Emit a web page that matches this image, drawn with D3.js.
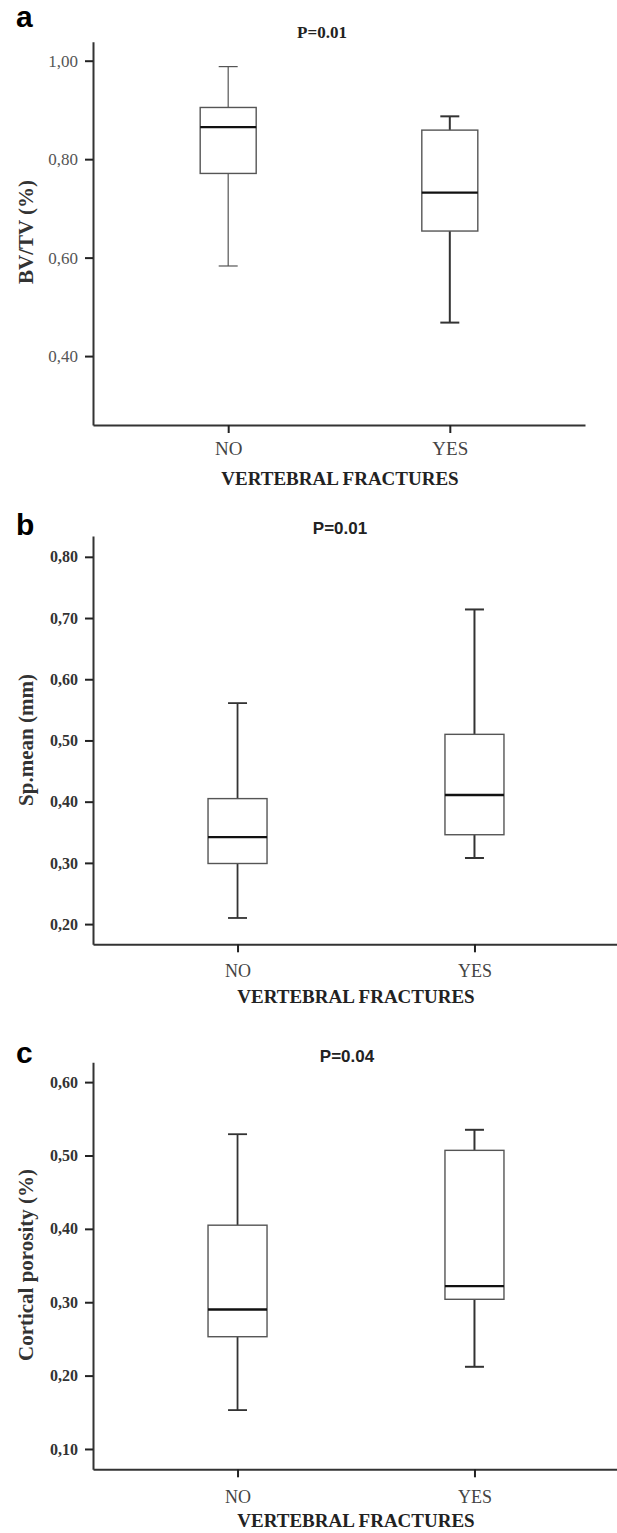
<!DOCTYPE html>
<html>
<head>
<meta charset="utf-8">
<script src="https://cdn.jsdelivr.net/npm/d3@7"></script>
<style>
  body { margin: 0; background: #fff; }
  svg { display: block; }
  .serif { font-family: 'Liberation Serif', 'Times New Roman', serif; }
  .sans { font-family: 'Liberation Sans', Arial, sans-serif; }
</style>
</head>
<body>
<script>
// groups on the x axis
const groups = ['NO', 'YES']

// box stats: [min, q1, median, q3, max]
const bvtvNo = [0.583, 0.771, 0.865, 0.905, 0.988]
const bvtvYes = [0.468, 0.654, 0.732, 0.859, 0.887]
const spNo = [0.210, 0.299, 0.342, 0.405, 0.561]
const spYes = [0.308, 0.346, 0.411, 0.510, 0.714]
const cortNo = [0.153, 0.253, 0.290, 0.405, 0.529]
const cortYes = [0.212, 0.304, 0.322, 0.507, 0.535]

// tick values
const bvtvTicks = [0.40, 0.60, 0.80, 1.00]
const spTicks = [0.20, 0.30, 0.40, 0.50, 0.60, 0.70, 0.80]
const cortTicks = [0.10, 0.20, 0.30, 0.40, 0.50, 0.60]

// p values / labels
const pLabels = ['P=0.01', 'P=0.01', 'P=0.04']
const yTitles = ['BV/TV (%)', 'Sp.mean (mm)', 'Cortical porosity (%)']
const xTitle = 'VERTEBRAL FRACTURES'

const w = 617
const h = 1533

// comma decimal format like the original
const locale = d3.formatLocale({ decimal: ',', thousands: '.', grouping: [3], currency: ['', ''] })
const fmt = locale.format('.2f')

const svg = d3.select('body')
    .append('svg')
    .attr('width', w)
    .attr('height', h)

// panel layout
const panels = [
    {
        letter: 'a', stats: [bvtvNo, bvtvYes], ticks: bvtvTicks,
        domain: [0.26, 1.0386], top: 41.7, bottom: 425, right: 585,
        boxW: 56, letterY: 27, pX: 322, pY: 38, pFont: 'serif', pSize: 17,
        yTitleY: 232, catPad: 8.5, catSize: 19, titleX: 340, titleY: 485,
        tickSize: 17, tickWeight: 'normal', tickColor: '#555',
        boxStroke: ['#555', '#333'], whiskStroke: [1.2, 2]
    },
    {
        letter: 'b', stats: [spNo, spYes], ticks: spTicks,
        domain: [0.167, 0.834], top: 536, bottom: 944.3, right: 619,
        boxW: 59, letterY: 535, pX: 340, pY: 534, pFont: 'sans', pSize: 17,
        yTitleY: 740, catPad: 12, catSize: 18, titleX: 356, titleY: 1003,
        tickSize: 16, tickWeight: 'bold', tickColor: '#333',
        boxStroke: ['#333', '#333'], whiskStroke: [1.8, 2]
    },
    {
        letter: 'c', stats: [cortNo, cortYes], ticks: cortTicks,
        domain: [0.0723, 0.627], top: 1062.3, bottom: 1469.3, right: 619,
        boxW: 59, letterY: 1063, pX: 347, pY: 1062, pFont: 'sans', pSize: 17,
        yTitleY: 1265, catPad: 13, catSize: 18, titleX: 356, titleY: 1527,
        tickSize: 16, tickWeight: 'bold', tickColor: '#333',
        boxStroke: ['#333', '#333'], whiskStroke: [1.8, 2]
    }
]

const left = 93

panels.forEach((p, i) => {
    const g = svg.append('g')

    const yScale = d3.scaleLinear()
        .domain(p.domain)
        .range([p.bottom, p.top])

    const xScale = d3.scalePoint()
        .domain(groups)
        .range([left, p.right])
        .padding(0.61)

    // y axis
    const yAxis = d3.axisLeft(yScale)
        .tickValues(p.ticks)
        .tickFormat(fmt)
        .tickSize(8)
        .tickSizeOuter(0)
        .tickPadding(7)

    const yG = g.append('g')
        .attr('transform', `translate(${left},0)`)
        .call(yAxis)
    yG.select('.domain').attr('stroke', '#333').attr('stroke-width', 2)
    yG.selectAll('.tick line').attr('stroke', '#222').attr('stroke-width', 2)
    yG.selectAll('.tick text')
        .attr('class', 'serif')
        .style('font-size', p.tickSize + 'px')
        .style('font-weight', p.tickWeight)
        .attr('fill', p.tickColor)

    // x axis
    const xAxis = d3.axisBottom(xScale)
        .tickSize(8)
        .tickSizeOuter(0)
        .tickPadding(p.catPad)

    const xG = g.append('g')
        .attr('transform', `translate(0,${p.bottom})`)
        .call(xAxis)
    xG.select('.domain').attr('stroke', '#333').attr('stroke-width', 2)
    xG.selectAll('.tick line').attr('stroke', '#222').attr('stroke-width', 2)
    xG.selectAll('.tick text')
        .attr('class', 'serif')
        .style('font-size', p.catSize + 'px')
        .attr('fill', '#444')

    // boxes
    p.stats.forEach((s, j) => {
        const cx = xScale(groups[j])
        const bw = p.boxW
        const cap = 19
        const col = p.boxStroke[j]
        const sw = p.whiskStroke[j]

        // whiskers
        g.append('line')
            .attr('x1', cx).attr('x2', cx)
            .attr('y1', yScale(s[4])).attr('y2', yScale(s[3]))
            .attr('stroke', col).attr('stroke-width', sw)
        g.append('line')
            .attr('x1', cx).attr('x2', cx)
            .attr('y1', yScale(s[1])).attr('y2', yScale(s[0]))
            .attr('stroke', col).attr('stroke-width', sw)
        // caps
        ;[s[0], s[4]].forEach(v => {
            g.append('line')
                .attr('x1', cx - cap / 2).attr('x2', cx + cap / 2)
                .attr('y1', yScale(v)).attr('y2', yScale(v))
                .attr('stroke', col).attr('stroke-width', sw)
        })
        // box
        g.append('rect')
            .attr('x', cx - bw / 2)
            .attr('y', yScale(s[3]))
            .attr('width', bw)
            .attr('height', yScale(s[1]) - yScale(s[3]))
            .attr('fill', 'white')
            .attr('stroke', '#555')
            .attr('stroke-width', 1.4)
        // median
        g.append('line')
            .attr('x1', cx - bw / 2).attr('x2', cx + bw / 2)
            .attr('y1', yScale(s[2])).attr('y2', yScale(s[2]))
            .attr('stroke', '#111').attr('stroke-width', 2.4)
    })

    // panel letter
    g.append('text')
        .attr('class', 'sans')
        .attr('x', 16)
        .attr('y', p.letterY)
        .style('font-size', '30px')
        .style('font-weight', 'bold')
        .text(p.letter)

    // p value
    g.append('text')
        .attr('class', p.pFont)
        .attr('x', p.pX)
        .attr('y', p.pY)
        .attr('text-anchor', 'middle')
        .style('font-size', p.pSize + 'px')
        .style('font-weight', 'bold')
        .attr('fill', '#222')
        .text(pLabels[i])

    // y title
    g.append('text')
        .attr('class', 'serif')
        .attr('transform', `translate(33,${p.yTitleY}) rotate(-90)`)
        .attr('text-anchor', 'middle')
        .style('font-size', '21px')
        .style('font-weight', 'bold')
        .attr('fill', '#333')
        .text(yTitles[i])

    // x title
    g.append('text')
        .attr('class', 'serif')
        .attr('x', p.titleX)
        .attr('y', p.titleY)
        .attr('text-anchor', 'middle')
        .style('font-size', '19px')
        .style('font-weight', 'bold')
        .attr('fill', '#222')
        .text(xTitle)
})
</script>
</body>
</html>
